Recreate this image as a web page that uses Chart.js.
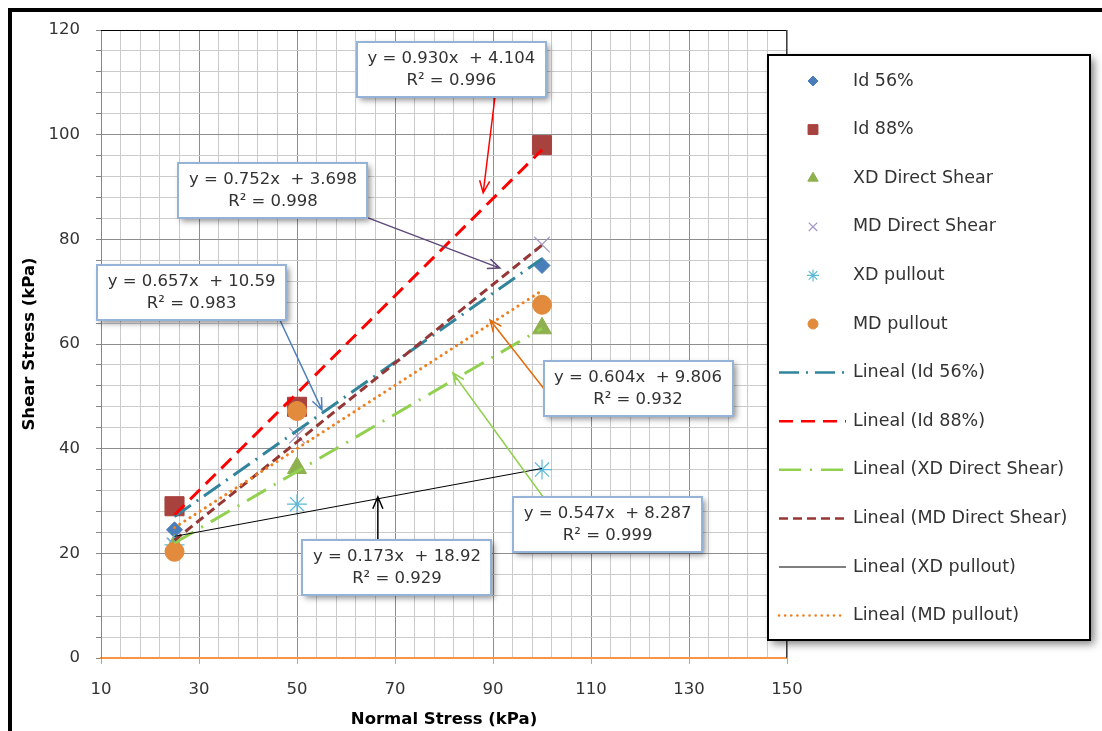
<!DOCTYPE html>
<html>
<head>
<meta charset="utf-8">
<script src="https://cdn.jsdelivr.net/npm/chart.js@4.4.0/dist/chart.umd.min.js"></script>
<style>
html, body { margin: 0; padding: 0; background: #fff; }
</style>
</head>
<body>
<canvas id="myChart" width="1102" height="731"></canvas>
<script>
// values
const normalStress = [25, 50, 100];
const seriesNames = ['Id 56%', 'Id 88%', 'XD Direct Shear', 'MD Direct Shear', 'XD pullout', 'MD pullout'];
const id56 = [24.5, 47.2, 75];
const id88 = [29, 48, 98];
const xdDirectShear = [21.5, 36.3, 63];
const mdDirectShear = [21.5, 42.5, 79];
const xdPullout = [21.6, 29.4, 36];
const mdPullout = [20.3, 47.2, 67.5];
// trendline equations printed on the chart
const slopes = [0.657, 0.930, 0.547, 0.752, 0.173, 0.604];
const intercepts = [10.59, 4.104, 8.287, 3.698, 18.92, 9.806];
const rSquared = [0.983, 0.996, 0.999, 0.998, 0.929, 0.932];
const xTickLabels = [10, 30, 50, 70, 90, 110, 130, 150];
const yTickLabels = [0, 20, 40, 60, 80, 100, 120];

const seriesValues = [id56, id88, xdDirectShear, mdDirectShear, xdPullout, mdPullout];

const FONT = "'DejaVu Sans', sans-serif";

// marker styles
const markers = [
    {style: 'rectRot', color: '#4A7EBB', radius: 8, legendRadius: 5, bw: 1},
    {style: 'rect', color: '#A8423F', radius: 13.5, legendRadius: 7, bw: 1},
    {style: 'triangle', color: '#8FB04F', radius: 11, legendRadius: 6, bw: 1},
    {style: 'crossRot', color: '#A394C6', radius: 11, legendRadius: 6, bw: 1.2},
    {style: 'star', color: '#5BBAD5', radius: 10, legendRadius: 6, bw: 1.2},
    {style: 'circle', color: '#E38B3C', radius: 9.5, legendRadius: 5, bw: 1}
];
// trendline styles
const trends = [
    {color: '#31849B', width: 3, dash: [20, 7, 2, 7], cap: 'butt'},
    {color: '#FF0000', width: 3, dash: [14, 8], cap: 'butt'},
    {color: '#92D050', width: 3, dash: [22, 9, 2, 9], cap: 'butt'},
    {color: '#953735', width: 3, dash: [9, 5], cap: 'butt'},
    {color: '#000000', width: 1, dash: [], cap: 'butt'},
    {color: '#F07F1E', width: 3, dash: [0.1, 6], cap: 'round'}
];

// equation boxes (data coords) and their arrows
const eqBoxes = [
    {s: 1, cx: 81.5, cy: 112.4, from: [90.4, 107.2], to: [88.0, 88.9], color: '#FF0000'},
    {s: 3, cx: 45.1, cy: 89.3, from: [64.5, 84.1], to: [91.4, 74.5], color: '#5F497A'},
    {s: 0, cx: 28.5, cy: 69.9, from: [46.1, 65.4], to: [55.1, 47.4], color: '#4F81BD'},
    {s: 5, cx: 119.6, cy: 51.5, from: [100.6, 51.2], to: [89.4, 64.6], color: '#E46C0A'},
    {s: 2, cx: 113.4, cy: 25.6, from: [100.2, 30.8], to: [81.8, 54.5], color: '#92D050'},
    {s: 4, cx: 70.4, cy: 17.3, from: [66.5, 22.5], to: [66.5, 30.8], color: '#000000'}
];

function eqText(i) {
    return ['y = ' + slopes[i].toFixed(3) + 'x  + ' + intercepts[i], 'R\u00B2 = ' + rSquared[i].toFixed(3)];
}

const datasets = [];
seriesNames.forEach(function (name, i) {
    const m = markers[i];
    datasets.push({
        type: 'scatter',
        label: name,
        data: normalStress.map(function (x, j) { return {x: x, y: seriesValues[i][j]}; }),
        pointStyle: m.style,
        pointRadius: m.radius,
        pointBackgroundColor: m.color,
        pointBorderColor: m.color,
        pointBorderWidth: m.bw,
        showLine: false,
        order: 20 - i   // later series on top, like the original
    });
});
seriesNames.forEach(function (name, i) {
    const t = trends[i];
    const x0 = normalStress[0], x1 = normalStress[normalStress.length - 1];
    datasets.push({
        type: 'line',
        label: 'Lineal (' + name + ')',
        data: [{x: x0, y: slopes[i] * x0 + intercepts[i]}, {x: x1, y: slopes[i] * x1 + intercepts[i]}],
        borderColor: t.color,
        borderWidth: t.width,
        borderDash: t.dash,
        borderCapStyle: t.cap,
        pointRadius: 0,
        fill: false,
        order: 10 - i
    });
});

function isMajor(v, start) {
    return Math.abs(((v - start) % 20 + 20) % 20) < 1e-6;
}

const framePlugin = {
    id: 'frame',
    afterDraw(chart) {
        const ctx = chart.ctx;
        const a = chart.chartArea;
        const xs = chart.scales.x, ys = chart.scales.y;
        ctx.save();
        // plot top / right border
        ctx.lineWidth = 1;
        ctx.strokeStyle = '#000';
        ctx.beginPath();
        ctx.moveTo(a.left, a.top + 0.5);
        ctx.lineTo(a.right, a.top + 0.5);
        ctx.stroke();
        ctx.strokeStyle = '#404040';
        ctx.beginPath();
        ctx.moveTo(a.right - 0.5, a.top);
        ctx.lineTo(a.right - 0.5, a.bottom);
        ctx.stroke();

        // equation boxes with arrows
        eqBoxes.forEach(function (b) {
            const fx = xs.getPixelForValue(b.from[0]), fy = ys.getPixelForValue(b.from[1]);
            const tx = xs.getPixelForValue(b.to[0]), ty = ys.getPixelForValue(b.to[1]);
            ctx.strokeStyle = b.color;
            ctx.lineWidth = 1.5;
            ctx.setLineDash([]);
            ctx.beginPath();
            ctx.moveTo(fx, fy);
            ctx.lineTo(tx, ty);
            const ang = Math.atan2(ty - fy, tx - fx);
            const L = 13;
            ctx.moveTo(tx - L * Math.cos(ang - 0.4), ty - L * Math.sin(ang - 0.4));
            ctx.lineTo(tx, ty);
            ctx.lineTo(tx - L * Math.cos(ang + 0.4), ty - L * Math.sin(ang + 0.4));
            ctx.stroke();
        });
        eqBoxes.forEach(function (b) {
            const cx = xs.getPixelForValue(b.cx), cy = ys.getPixelForValue(b.cy);
            const w = 189, h = 55;
            const x = Math.round(cx - w / 2), y = Math.round(cy - h / 2);
            ctx.save();
            ctx.shadowColor = 'rgba(0,0,0,0.45)';
            ctx.shadowBlur = 6;
            ctx.shadowOffsetX = 3;
            ctx.shadowOffsetY = 3;
            ctx.fillStyle = '#fff';
            ctx.fillRect(x, y, w, h);
            ctx.restore();
            ctx.strokeStyle = '#95B3D7';
            ctx.lineWidth = 2;
            ctx.strokeRect(x, y, w, h);
            const lines = eqText(b.s);
            ctx.fillStyle = '#333';
            ctx.font = '16.5px ' + FONT;
            ctx.textAlign = 'center';
            ctx.textBaseline = 'middle';
            ctx.fillText(lines[0], cx, y + 17);
            ctx.fillText(lines[1], cx, y + 39);
        });

        // legend
        const lx = 768, ly = 55, lw = 322, lh = 585;
        ctx.save();
        ctx.shadowColor = 'rgba(0,0,0,0.5)';
        ctx.shadowBlur = 8;
        ctx.shadowOffsetX = 4;
        ctx.shadowOffsetY = 4;
        ctx.fillStyle = '#fff';
        ctx.fillRect(lx, ly, lw, lh);
        ctx.restore();
        ctx.strokeStyle = '#000';
        ctx.lineWidth = 2;
        ctx.strokeRect(lx, ly, lw, lh);
        ctx.font = '17.5px ' + FONT;
        ctx.textAlign = 'left';
        ctx.textBaseline = 'middle';
        const rowH = 48.6;
        seriesNames.forEach(function (name, i) {
            const y = 81 + i * rowH;
            const m = markers[i];
            ctx.fillStyle = m.color;
            ctx.strokeStyle = m.color;
            ctx.lineWidth = m.bw;
            Chart.helpers.drawPoint(ctx, {pointStyle: m.style, radius: m.legendRadius, rotation: 0, borderWidth: m.bw}, 813, y);
            ctx.fillStyle = '#333';
            ctx.fillText(name, 853, y);
        });
        seriesNames.forEach(function (name, i) {
            const y = 81 + (i + 6) * rowH;
            const t = trends[i];
            ctx.save();
            ctx.strokeStyle = t.color;
            ctx.lineWidth = Math.min(t.width, 2.5);
            ctx.setLineDash(t.dash);
            ctx.lineCap = t.cap;
            ctx.beginPath();
            ctx.moveTo(779, y);
            ctx.lineTo(846, y);
            ctx.stroke();
            ctx.restore();
            ctx.fillStyle = '#333';
            ctx.fillText('Lineal (' + name + ')', 853, y);
        });

        // outer chart frame
        ctx.strokeStyle = '#000';
        ctx.lineWidth = 4;
        ctx.strokeRect(10, 10, 1200, 800);
        ctx.restore();
    }
};

(function () {
    const ctx = document.getElementById('myChart');
    new Chart(ctx, {
        data: {datasets: datasets},
        options: {
            responsive: false,
            animation: false,
            layout: {padding: {left: 14, right: 315, top: 30, bottom: 0}},
            plugins: {legend: {display: false}, tooltip: {enabled: false}},
            scales: {
                x: {
                    type: 'linear',
                    min: xTickLabels[0],
                    max: xTickLabels[xTickLabels.length - 1],
                    afterFit(scale) { scale.height = 73; },
                    ticks: {
                        stepSize: 4,
                        autoSkip: false,
                        maxRotation: 0,
                        padding: 16,
                        color: '#333',
                        font: {size: 16.5, family: FONT},
                        callback(v) { return xTickLabels.indexOf(v) >= 0 ? String(v) : ''; }
                    },
                    grid: {
                        color(c) { return c.tick && isMajor(c.tick.value, 10) ? '#8e8e8e' : '#cbcbcb'; },
                        tickColor(c) { return c.tick && isMajor(c.tick.value, 10) ? '#F79646' : 'rgba(0,0,0,0)'; },
                        tickLength: 6,
                        lineWidth: 1
                    },
                    border: {color: '#F79646', width: 2},
                    title: {
                        display: true,
                        text: 'Normal Stress (kPa)',
                        color: '#000',
                        font: {size: 16.5, weight: 'bold', family: FONT},
                        padding: {top: 0, bottom: 1}
                    }
                },
                y: {
                    type: 'linear',
                    min: yTickLabels[0],
                    max: yTickLabels[yTickLabels.length - 1],
                    afterFit(scale) { scale.width = 87; },
                    ticks: {
                        stepSize: 4,
                        autoSkip: false,
                        padding: 16,
                        color: '#333',
                        font: {size: 16.5, family: FONT},
                        callback(v) { return yTickLabels.indexOf(v) >= 0 ? String(v) : ''; }
                    },
                    grid: {
                        color(c) {
                            if (!c.tick || c.tick.value === 0) return 'rgba(0,0,0,0)';
                            return isMajor(c.tick.value, 0) ? '#8e8e8e' : '#cbcbcb';
                        },
                        tickColor: '#868686',
                        tickLength: 5,
                        lineWidth: 1
                    },
                    border: {color: '#868686', width: 1},
                    title: {
                        display: true,
                        text: 'Shear Stress (kPa)',
                        color: '#000',
                        font: {size: 16.5, weight: 'bold', family: FONT},
                        padding: {top: 6, bottom: 0}
                    }
                }
            }
        },
        plugins: [framePlugin]
    });
})();
</script>
</body>
</html>
